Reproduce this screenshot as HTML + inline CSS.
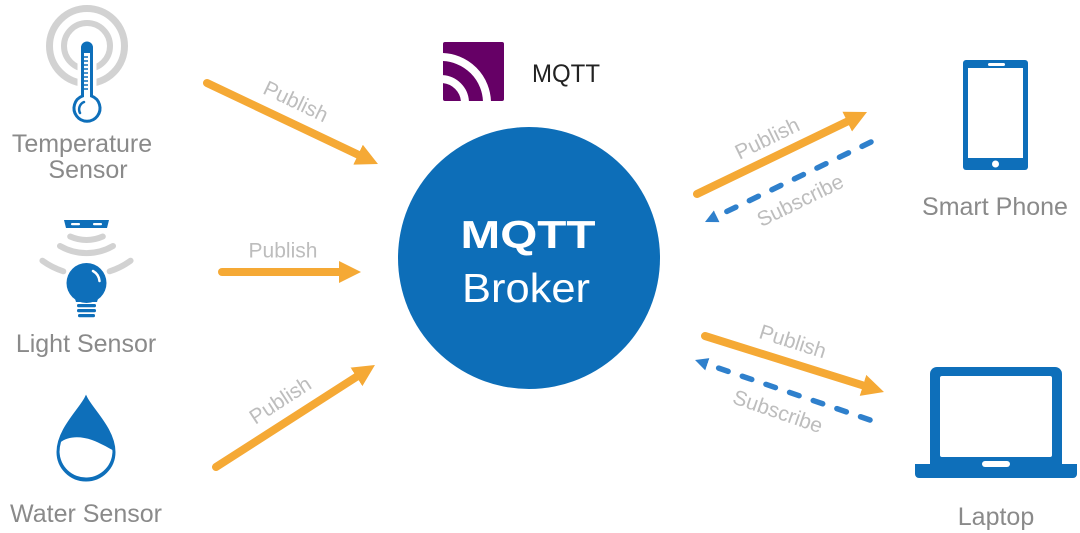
<!DOCTYPE html>
<html>
<head>
<meta charset="utf-8">
<style>
  html, body { margin: 0; padding: 0; background: #ffffff; }
  svg { display: block; }
  .lbl { font-family: "Liberation Sans", Arial, sans-serif; font-size: 25px; fill: #8a8a8a; text-anchor: middle; }
  .arr { font-family: "Liberation Sans", Arial, sans-serif; font-size: 21px; fill: #bdbdbd; text-anchor: middle; }
</style>
</head>
<body>
<svg width="1080" height="533" viewBox="0 0 1080 533" xmlns="http://www.w3.org/2000/svg">
  <defs>
    <marker id="oh" markerUnits="userSpaceOnUse" markerWidth="22" markerHeight="22" viewBox="0 0 22 22" refX="6" refY="11" orient="auto">
      <path d="M0,0 L22,11 L0,22 Z" fill="#f5a935"/>
    </marker>
    <marker id="bh" markerUnits="userSpaceOnUse" markerWidth="13" markerHeight="13" viewBox="0 0 13 13" refX="5" refY="6.5" orient="auto">
      <path d="M0,0 L13,6.5 L0,13 Z" fill="#2f80cc"/>
    </marker>
    <clipPath id="logoclip">
      <rect x="443" y="42" width="61" height="59" rx="2"/>
    </clipPath>
  </defs>

  <rect width="1080" height="533" fill="#ffffff"/>

  <!-- ===== Temperature sensor ===== -->
  <circle cx="87" cy="46" r="37.5" fill="none" stroke="#d2d2d2" stroke-width="7"/>
  <circle cx="87" cy="46" r="23" fill="none" stroke="#d2d2d2" stroke-width="6"/>
  <path d="M82.5,96 L82.5,47.5 A4.5,4.5 0 0 1 91.5,47.5 L91.5,96 A13,13 0 1 1 82.5,96 Z" fill="#ffffff" stroke="#ffffff" stroke-width="10"/>
  <path d="M82.5,96 L82.5,47.5 A4.5,4.5 0 0 1 91.5,47.5 L91.5,96 A13,13 0 1 1 82.5,96 Z" fill="#ffffff" stroke="#0e6fba" stroke-width="3"/>
  <path d="M82.5,53 L82.5,47.5 A4.5,4.5 0 0 1 91.5,47.5 L91.5,53 Z" fill="#0e6fba"/>
  <g stroke="#0e6fba" stroke-width="1.5">
    <line x1="84" y1="57" x2="88" y2="57"/>
    <line x1="84" y1="61" x2="88" y2="61"/>
    <line x1="84" y1="65" x2="88" y2="65"/>
    <line x1="84" y1="69" x2="88" y2="69"/>
    <line x1="84" y1="73" x2="88" y2="73"/>
    <line x1="84" y1="77" x2="88" y2="77"/>
    <line x1="84" y1="81" x2="88" y2="81"/>
    <line x1="84" y1="85" x2="88" y2="85"/>
    <line x1="84" y1="89" x2="88" y2="89"/>
  </g>
  <path d="M80,113 A8,8 0 0 1 84,102" fill="none" stroke="#0e6fba" stroke-width="2.5" stroke-linecap="round"/>
  <text class="lbl" x="82" y="152">Temperature</text>
  <text class="lbl" x="88" y="178">Sensor</text>

  <!-- ===== Light sensor ===== -->
  <path d="M64,220 L109,220 L107,228 L66,228 Z" fill="#0e6fba"/>
  <rect x="71" y="223" width="9" height="2.2" rx="1" fill="#ffffff"/>
  <rect x="93" y="223" width="9" height="2.2" rx="1" fill="#ffffff"/>
  <g fill="none" stroke="#d2d2d2" stroke-width="6" stroke-linecap="round">
    <path d="M70.2,236.5 A40,40 0 0 0 102.8,236.5"/>
    <path d="M60,246 A53,53 0 0 0 113,246"/>
    <path d="M42.4,260.7 A75,75 0 0 0 63.3,271.3"/>
    <path d="M109.7,271.3 A75,75 0 0 0 130.6,260.7"/>
  </g>
  <circle cx="86.5" cy="283" r="21" fill="#ffffff"/>
  <circle cx="86.5" cy="283" r="20" fill="#0e6fba"/>
  <path d="M73,292 L100,292 L97,302 L76,302 Z" fill="#0e6fba"/>
  <path d="M93,271 A13,13 0 0 1 99.5,281" fill="none" stroke="#ffffff" stroke-width="2.5" stroke-linecap="round"/>
  <rect x="77" y="304" width="19" height="3.2" rx="1.5" fill="#0e6fba"/>
  <rect x="77" y="309" width="19" height="3.2" rx="1.5" fill="#0e6fba"/>
  <rect x="78" y="314" width="17" height="3.2" rx="1.5" fill="#0e6fba"/>
  <text class="lbl" x="86" y="352">Light Sensor</text>

  <!-- ===== Water sensor ===== -->
  <path d="M86,398 C80,410 58,430 58,452 A28,28 0 0 0 114,452 C114,430 92,410 86,398 Z" fill="#0e6fba"/>
  <path d="M59.5,443 C68,436 80,436 92,440 C100,443 107,447 112.5,450 A26.5,26.5 0 0 1 59.5,452 Z" fill="#ffffff"/>
  <path d="M86,398 C80,410 58,430 58,452 A28,28 0 0 0 114,452 C114,430 92,410 86,398 Z" fill="none" stroke="#0e6fba" stroke-width="3"/>
  <text class="lbl" x="86" y="522">Water Sensor</text>

  <!-- ===== Left arrows ===== -->
  <line x1="207" y1="83" x2="363.5" y2="157.2" stroke="#f5a935" stroke-width="8" stroke-linecap="round" marker-end="url(#oh)"/>
  <line x1="222" y1="272" x2="345" y2="272" stroke="#f5a935" stroke-width="8" stroke-linecap="round" marker-end="url(#oh)"/>
  <line x1="216" y1="467" x2="361.5" y2="373.6" stroke="#f5a935" stroke-width="8" stroke-linecap="round" marker-end="url(#oh)"/>
  <text class="arr" transform="translate(296,101) rotate(25.5)" x="0" y="7.5">Publish</text>
  <text class="arr" x="283" y="257.5">Publish</text>
  <text class="arr" transform="translate(280,400) rotate(-33)" x="0" y="7.5">Publish</text>

  <!-- ===== MQTT logo ===== -->
  <rect x="443" y="42" width="61" height="59" rx="2" fill="#660066"/>
  <g clip-path="url(#logoclip)" fill="none" stroke="#ffffff" stroke-width="8">
    <circle cx="441" cy="103" r="24"/>
    <circle cx="441" cy="103" r="46"/>
  </g>
  <text x="532" y="82" font-family="Liberation Sans, Arial, sans-serif" font-size="25" fill="#222222" textLength="68" lengthAdjust="spacingAndGlyphs">MQTT</text>

  <!-- ===== Broker ===== -->
  <circle cx="529" cy="258" r="131" fill="#0d6eb8"/>
  <text x="528" y="248" font-family="Liberation Sans, Arial, sans-serif" font-size="39" font-weight="bold" fill="#ffffff" text-anchor="middle" textLength="135" lengthAdjust="spacingAndGlyphs">MQTT</text>
  <text x="526" y="302" font-family="Liberation Sans, Arial, sans-serif" font-size="41" fill="#ffffff" text-anchor="middle" textLength="128" lengthAdjust="spacingAndGlyphs">Broker</text>

  <!-- ===== Right arrows (phone) ===== -->
  <line x1="697" y1="194" x2="852.6" y2="119" stroke="#f5a935" stroke-width="8" stroke-linecap="round" marker-end="url(#oh)"/>
  <line x1="871" y1="142" x2="712.2" y2="218.5" stroke="#2f80cc" stroke-width="5.5" stroke-linecap="round" stroke-dasharray="10 15" marker-end="url(#bh)"/>
  <text class="arr" transform="translate(767,138) rotate(-26)" x="0" y="7.5">Publish</text>
  <text class="arr" transform="translate(800,200) rotate(-26)" x="0" y="7.5">Subscribe</text>

  <!-- ===== Right arrows (laptop) ===== -->
  <line x1="705" y1="336" x2="868.7" y2="387.2" stroke="#f5a935" stroke-width="8" stroke-linecap="round" marker-end="url(#oh)"/>
  <line x1="870" y1="420" x2="702.6" y2="362.6" stroke="#2f80cc" stroke-width="5.5" stroke-linecap="round" stroke-dasharray="10 15" marker-end="url(#bh)"/>
  <text class="arr" transform="translate(793,341) rotate(17.6)" x="0" y="7.5">Publish</text>
  <text class="arr" transform="translate(778,411) rotate(19)" x="0" y="7.5">Subscribe</text>

  <!-- ===== Smart phone ===== -->
  <rect x="963" y="60" width="65" height="110" rx="3" fill="#0e6fba"/>
  <rect x="968" y="68" width="55" height="90" fill="#ffffff"/>
  <rect x="988" y="63" width="17" height="3" rx="1.5" fill="#ffffff"/>
  <circle cx="995.5" cy="164" r="3.5" fill="#ffffff"/>
  <text class="lbl" x="995" y="215">Smart Phone</text>

  <!-- ===== Laptop ===== -->
  <path d="M930,466 L930,374 A7,7 0 0 1 937,367 L1055,367 A7,7 0 0 1 1062,374 L1062,466 Z" fill="#0e6fba"/>
  <rect x="940" y="376" width="112" height="81" rx="2" fill="#ffffff"/>
  <path d="M915,464 L1077,464 L1077,474 A4,4 0 0 1 1073,478 L919,478 A4,4 0 0 1 915,474 Z" fill="#0e6fba"/>
  <rect x="982" y="461" width="28" height="6" rx="3" fill="#ffffff"/>
  <text class="lbl" x="996" y="525">Laptop</text>
</svg>
</body>
</html>
